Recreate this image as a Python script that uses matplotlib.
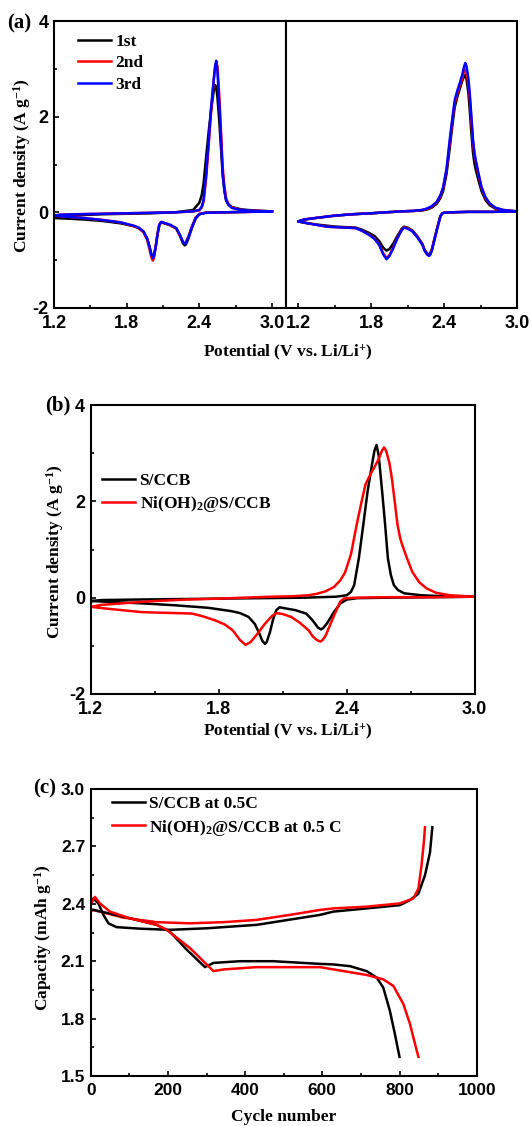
import matplotlib
matplotlib.use('Agg')
import matplotlib.pyplot as plt

# ---- CV data, S/CCB (panel a left, black curve of panel b) ----
SCCB_CATH_V = [3.00, 2.80, 2.60, 2.45, 2.40, 2.37, 2.34, 2.31, 2.29, 2.28,
               2.265, 2.24, 2.21, 2.16, 2.11, 2.085, 2.07, 2.055, 2.04, 2.025,
               2.017, 2.005, 1.99, 1.97, 1.94, 1.90, 1.86, 1.75, 1.60, 1.45,
               1.30, 1.20]
SCCB_ANOD_V = [1.25, 1.40, 1.60, 1.80, 2.00, 2.20, 2.35, 2.40, 2.42, 2.435,
               2.457, 2.478, 2.498, 2.52, 2.53, 2.54, 2.55, 2.566, 2.58, 2.593,
               2.607, 2.621, 2.64, 2.67, 2.75, 2.85, 3.00]
SCCB_CATH_I1 = [0.02, 0.01, 0.00, -0.01, -0.04, -0.13, -0.32, -0.55, -0.67, -0.69,
                -0.65, -0.49, -0.34, -0.27, -0.23, -0.21, -0.27, -0.46, -0.72, -0.90,
                -0.93, -0.88, -0.73, -0.55, -0.41, -0.33, -0.29, -0.23, -0.18, -0.15,
                -0.13, -0.12]
SCCB_ANOD_I1 = [-0.09, -0.06, -0.04, -0.03, -0.02, 0.00, 0.05, 0.20, 0.36, 0.60,
                1.17, 1.70, 2.15, 2.55, 2.66, 2.62, 2.40, 1.87, 1.30, 0.78,
                0.45, 0.25, 0.16, 0.11, 0.06, 0.04, 0.02]
SCCB_CATH_I2 = [0.02, 0.01, 0.00, -0.01, -0.03, -0.11, -0.29, -0.51, -0.62, -0.65,
                -0.62, -0.48, -0.34, -0.27, -0.22, -0.20, -0.25, -0.44, -0.72, -0.95,
                -1.01, -0.95, -0.78, -0.58, -0.42, -0.33, -0.29, -0.21, -0.16, -0.12,
                -0.09, -0.07]
SCCB_ANOD_I2 = [-0.05, -0.04, -0.03, -0.02, -0.01, 0.00, 0.02, 0.04, 0.10, 0.22,
                0.72, 1.42, 2.12, 2.78, 3.02, 3.14, 3.05, 2.40, 1.65, 0.95,
                0.55, 0.30, 0.18, 0.10, 0.05, 0.03, 0.02]
SCCB_CATH_I3 = [0.02, 0.01, 0.00, -0.01, -0.04, -0.12, -0.30, -0.52, -0.63, -0.66,
                -0.62, -0.47, -0.33, -0.26, -0.22, -0.20, -0.26, -0.45, -0.72, -0.92,
                -0.96, -0.90, -0.74, -0.55, -0.40, -0.32, -0.28, -0.21, -0.16, -0.12,
                -0.09, -0.07]
SCCB_ANOD_I3 = [-0.05, -0.04, -0.03, -0.02, -0.01, 0.00, 0.02, 0.05, 0.12, 0.26,
                0.82, 1.52, 2.21, 2.80, 3.05, 3.17, 2.95, 2.21, 1.52, 0.82,
                0.47, 0.26, 0.16, 0.09, 0.05, 0.03, 0.02]

# ---- CV data, Ni(OH)2@S/CCB (panel a right, red curve of panel b) ----
NI_CATH_V = [3.00, 2.80, 2.60, 2.45, 2.40, 2.386, 2.37, 2.359, 2.34, 2.318,
             2.30, 2.285, 2.277, 2.26, 2.24, 2.222, 2.18, 2.14, 2.10, 2.071,
             2.05, 2.017, 1.98, 1.95, 1.926, 1.90, 1.866, 1.83, 1.783, 1.72,
             1.674, 1.60, 1.51, 1.44, 1.37, 1.28, 1.20]
NI_ANOD_V = [1.25, 1.37, 1.50, 1.647, 1.80, 1.92, 2.05, 2.15, 2.22, 2.26,
             2.30, 2.34, 2.37, 2.392, 2.42, 2.447, 2.47, 2.488, 2.51, 2.529,
             2.55, 2.565, 2.575, 2.585, 2.60, 2.611, 2.625, 2.638, 2.65, 2.66,
             2.68, 2.707, 2.74, 2.775, 2.82, 2.885, 3.00]
NI_CATH_I1 = [0.02, 0.01, 0.01, 0.00, -0.01, -0.02, -0.08, -0.18, -0.36, -0.58,
              -0.77, -0.86, -0.88, -0.86, -0.78, -0.66, -0.50, -0.38, -0.32, -0.30,
              -0.35, -0.49, -0.66, -0.77, -0.80, -0.74, -0.60, -0.50, -0.43, -0.36,
              -0.32, -0.31, -0.30, -0.28, -0.26, -0.23, -0.19]
NI_ANOD_I1 = [-0.15, -0.11, -0.07, -0.04, -0.02, 0.00, 0.02, 0.03, 0.04, 0.06,
              0.10, 0.18, 0.30, 0.44, 0.80, 1.35, 1.85, 2.20, 2.42, 2.58,
              2.75, 2.85, 2.87, 2.78, 2.50, 2.15, 1.65, 1.25, 1.02, 0.90,
              0.70, 0.45, 0.26, 0.15, 0.08, 0.04, 0.02]
NI_CATH_I2 = [0.02, 0.01, 0.01, 0.00, -0.01, -0.02, -0.08, -0.19, -0.37, -0.60,
              -0.79, -0.88, -0.90, -0.87, -0.79, -0.67, -0.51, -0.39, -0.33, -0.31,
              -0.37, -0.53, -0.75, -0.90, -0.95, -0.86, -0.67, -0.55, -0.46, -0.38,
              -0.33, -0.32, -0.31, -0.30, -0.27, -0.23, -0.19]
NI_ANOD_I2 = [-0.15, -0.11, -0.07, -0.04, -0.02, 0.00, 0.02, 0.03, 0.05, 0.07,
              0.12, 0.21, 0.34, 0.50, 0.88, 1.45, 1.95, 2.28, 2.50, 2.65,
              2.80, 2.95, 2.98, 2.92, 2.68, 2.40, 1.90, 1.45, 1.20, 1.07,
              0.82, 0.52, 0.30, 0.18, 0.09, 0.05, 0.02]
NI_CATH_I3 = [0.02, 0.01, 0.01, 0.00, -0.01, -0.02, -0.08, -0.19, -0.38, -0.61,
              -0.80, -0.89, -0.91, -0.88, -0.80, -0.68, -0.52, -0.40, -0.34, -0.32,
              -0.38, -0.54, -0.76, -0.92, -0.98, -0.88, -0.68, -0.56, -0.47, -0.38,
              -0.33, -0.32, -0.31, -0.30, -0.27, -0.23, -0.19]
NI_ANOD_I3 = [-0.15, -0.11, -0.07, -0.04, -0.02, 0.00, 0.02, 0.03, 0.05, 0.08,
              0.13, 0.22, 0.36, 0.52, 0.90, 1.52, 2.00, 2.35, 2.55, 2.70,
              2.88, 3.05, 3.12, 3.05, 2.80, 2.50, 2.00, 1.52, 1.25, 1.10,
              0.85, 0.54, 0.32, 0.19, 0.10, 0.05, 0.02]

# ---- panel c ----
SCCB_CHG_N = [0, 7, 20, 33, 46, 67, 128, 205, 300, 430, 594, 628, 715, 801, 827, 849, 866, 879, 885]
SCCB_CHG_C = [2.40, 2.428, 2.402, 2.342, 2.298, 2.278, 2.27, 2.264, 2.272, 2.29, 2.342,
              2.359, 2.376, 2.393, 2.419, 2.453, 2.549, 2.669, 2.80]
SCCB_DIS_N = [0, 7, 84, 171, 205, 249, 296, 318, 387, 473, 594, 629, 672, 715, 741, 758, 775, 788, 800]
SCCB_DIS_C = [2.37, 2.368, 2.333, 2.29, 2.255, 2.16, 2.069, 2.091, 2.10, 2.10, 2.086,
              2.083, 2.074, 2.048, 2.014, 1.962, 1.841, 1.72, 1.60]
NI_CHG_N = [0, 7, 84, 171, 257, 344, 430, 516, 594, 629, 715, 801, 836, 849, 857, 863, 866]
NI_CHG_C = [2.36, 2.368, 2.328, 2.304, 2.298, 2.304, 2.316, 2.342, 2.368, 2.376, 2.385,
            2.402, 2.428, 2.48, 2.60, 2.721, 2.80]
NI_DIS_N = [0, 11, 24, 50, 102, 171, 197, 257, 318, 344, 430, 594, 629, 715, 758, 784, 810, 827, 840, 849]
NI_DIS_C = [2.40, 2.436, 2.402, 2.359, 2.324, 2.29, 2.264, 2.169, 2.048, 2.057, 2.069,
            2.069, 2.057, 2.028, 2.005, 1.971, 1.876, 1.773, 1.669, 1.60]

CV_XTICKS = [1.2, 1.8, 2.4, 3.0]
CV_XMINOR = [1.5, 2.1, 2.7]
CV_YTICKS = [-2, 0, 2, 4]
CV_YMINOR = [-1, 1, 3]
CYC_XTICKS = [0, 200, 400, 600, 800, 1000]
CYC_XMINOR = [100, 300, 500, 700, 900]
CYC_YTICKS = [1.5, 1.8, 2.1, 2.4, 2.7, 3.0]
CYC_YMINOR = [1.65, 1.95, 2.25, 2.55, 2.85]

plt.rcParams.update({'font.family': 'Liberation Sans', 'font.weight': 'bold', 'font.size': 13,
                     'mathtext.default': 'regular', 'axes.unicode_minus': False,
                     'axes.linewidth': 1.5, 'lines.linewidth': 1.8,
                     'xtick.direction': 'in', 'ytick.direction': 'in',
                     'xtick.major.size': 3.6, 'ytick.major.size': 3.6,
                     'xtick.minor.size': 2.4, 'ytick.minor.size': 2.4,
                     'xtick.major.width': 1.2, 'ytick.major.width': 1.2,
                     'xtick.minor.width': 1.2, 'ytick.minor.width': 1.2,
                     'xtick.major.pad': 5, 'ytick.major.pad': 4})
SERIF = {'family': 'Liberation Serif', 'weight': 'bold', 'size': 12.5}
W, H = 531, 1126


def fx(px):
    return px / W


def fy(py):
    return 1 - py / H


def box(x0, y0, x1, y1):
    return [fx(x0), fy(y1), (x1 - x0) / W, (y1 - y0) / H]


def ticks(ax, xt, xm, yt, ym):
    ax.set_xticks(xt)
    ax.set_xticks(xm, minor=True)
    ax.set_yticks(yt)
    ax.set_yticks(ym, minor=True)


def cv(ax, cath_v, cath_i, anod_v, anod_i, color, label=None):
    return ax.plot(cath_v + anod_v, cath_i + anod_i, color=color, label=label)[0]


fig = plt.figure(figsize=(W / 100, H / 100), dpi=100)

# ---- (a) ----
ax1 = fig.add_axes(box(54, 21, 286, 308))
cv(ax1, SCCB_CATH_V, SCCB_CATH_I1, SCCB_ANOD_V, SCCB_ANOD_I1, 'black', '1st')
cv(ax1, SCCB_CATH_V, SCCB_CATH_I2, SCCB_ANOD_V, SCCB_ANOD_I2, 'red', '2nd')
cv(ax1, SCCB_CATH_V, SCCB_CATH_I3, SCCB_ANOD_V, SCCB_ANOD_I3, 'blue', '3rd')
ax1.set_xlim(1.2, 3.116)
ax1.set_ylim(-2, 4)
ticks(ax1, CV_XTICKS, CV_XMINOR, CV_YTICKS, CV_YMINOR)
ax1.legend(loc='upper left', bbox_to_anchor=(0.105, 0.955), frameon=False, prop=SERIF,
           handlelength=1.9, handletextpad=0.25, labelspacing=0.3, borderpad=0, borderaxespad=0)

ax2 = fig.add_axes(box(286, 21, 517, 308))
cv(ax2, NI_CATH_V, NI_CATH_I1, NI_ANOD_V, NI_ANOD_I1, 'black')
cv(ax2, NI_CATH_V, NI_CATH_I2, NI_ANOD_V, NI_ANOD_I2, 'red')
cv(ax2, NI_CATH_V, NI_CATH_I3, NI_ANOD_V, NI_ANOD_I3, 'blue')
ax2.set_xlim(1.1, 3.0)
ax2.set_ylim(-2, 4)
ticks(ax2, CV_XTICKS, CV_XMINOR, CV_YTICKS, CV_YMINOR)
ax2.tick_params(axis='y', which='both', left=False, labelleft=False)

fig.text(fx(7), fy(23), '(a)', ha='left', va='center', **{**SERIF, 'size': 15})
fig.text(fx(288), fy(352), 'Potential (V vs. Li/Li$^{+}$)', ha='center', va='center', **SERIF)
fig.text(fx(22), fy(166), 'Current density (A g$^{-1}$)', ha='center', va='center', rotation=90, **SERIF)

# ---- (b) ----
axb = fig.add_axes(box(90.7, 405, 474.7, 694))
cv(axb, SCCB_CATH_V, SCCB_CATH_I3, SCCB_ANOD_V, SCCB_ANOD_I3, 'black', 'S/CCB')
cv(axb, NI_CATH_V, NI_CATH_I3, NI_ANOD_V, NI_ANOD_I3, 'red', 'Ni(OH)$_{2}$@S/CCB')
axb.set_xlim(1.2, 3.0)
axb.set_ylim(-2, 4)
ticks(axb, CV_XTICKS, CV_XMINOR, CV_YTICKS, CV_YMINOR)
axb.legend(loc='upper left', bbox_to_anchor=(0.03, 0.765), frameon=False, prop=SERIF,
           handlelength=1.9, handletextpad=0.25, labelspacing=0.3, borderpad=0, borderaxespad=0)
fig.text(fx(45), fy(405), '(b)', ha='left', va='center', **{**SERIF, 'size': 15})
fig.text(fx(288), fy(731), 'Potential (V vs. Li/Li$^{+}$)', ha='center', va='center', **SERIF)
fig.text(fx(55), fy(552), 'Current density (A g$^{-1}$)', ha='center', va='center', rotation=90, **SERIF)

# ---- (c) ----
axc = fig.add_axes(box(90.7, 789, 476.7, 1076))
axc.plot(SCCB_CHG_N, SCCB_CHG_C, color='black', label='S/CCB at 0.5C')
axc.plot(NI_CHG_N, NI_CHG_C, color='red', label='Ni(OH)$_{2}$@S/CCB at 0.5 C')
axc.plot(SCCB_DIS_N, SCCB_DIS_C, color='black')
axc.plot(NI_DIS_N, NI_DIS_C, color='red')
axc.set_xlim(0, 1000)
axc.set_ylim(1.5, 3.0)
ticks(axc, CYC_XTICKS, CYC_XMINOR, CYC_YTICKS, CYC_YMINOR)
axc.tick_params(labelsize=12.5)
axc.legend(loc='upper left', bbox_to_anchor=(0.055, 0.975), frameon=False, prop=SERIF,
           handlelength=1.9, handletextpad=0.25, labelspacing=0.3, borderpad=0, borderaxespad=0)
fig.text(fx(33), fy(788), '(c)', ha='left', va='center', **{**SERIF, 'size': 15})
fig.text(fx(284), fy(1117), 'Cycle number', ha='center', va='center', **SERIF)
fig.text(fx(43), fy(938), 'Capacity (mAh g$^{-1}$)', ha='center', va='center', rotation=90, **SERIF)

fig.savefig('out.png', dpi=100)
